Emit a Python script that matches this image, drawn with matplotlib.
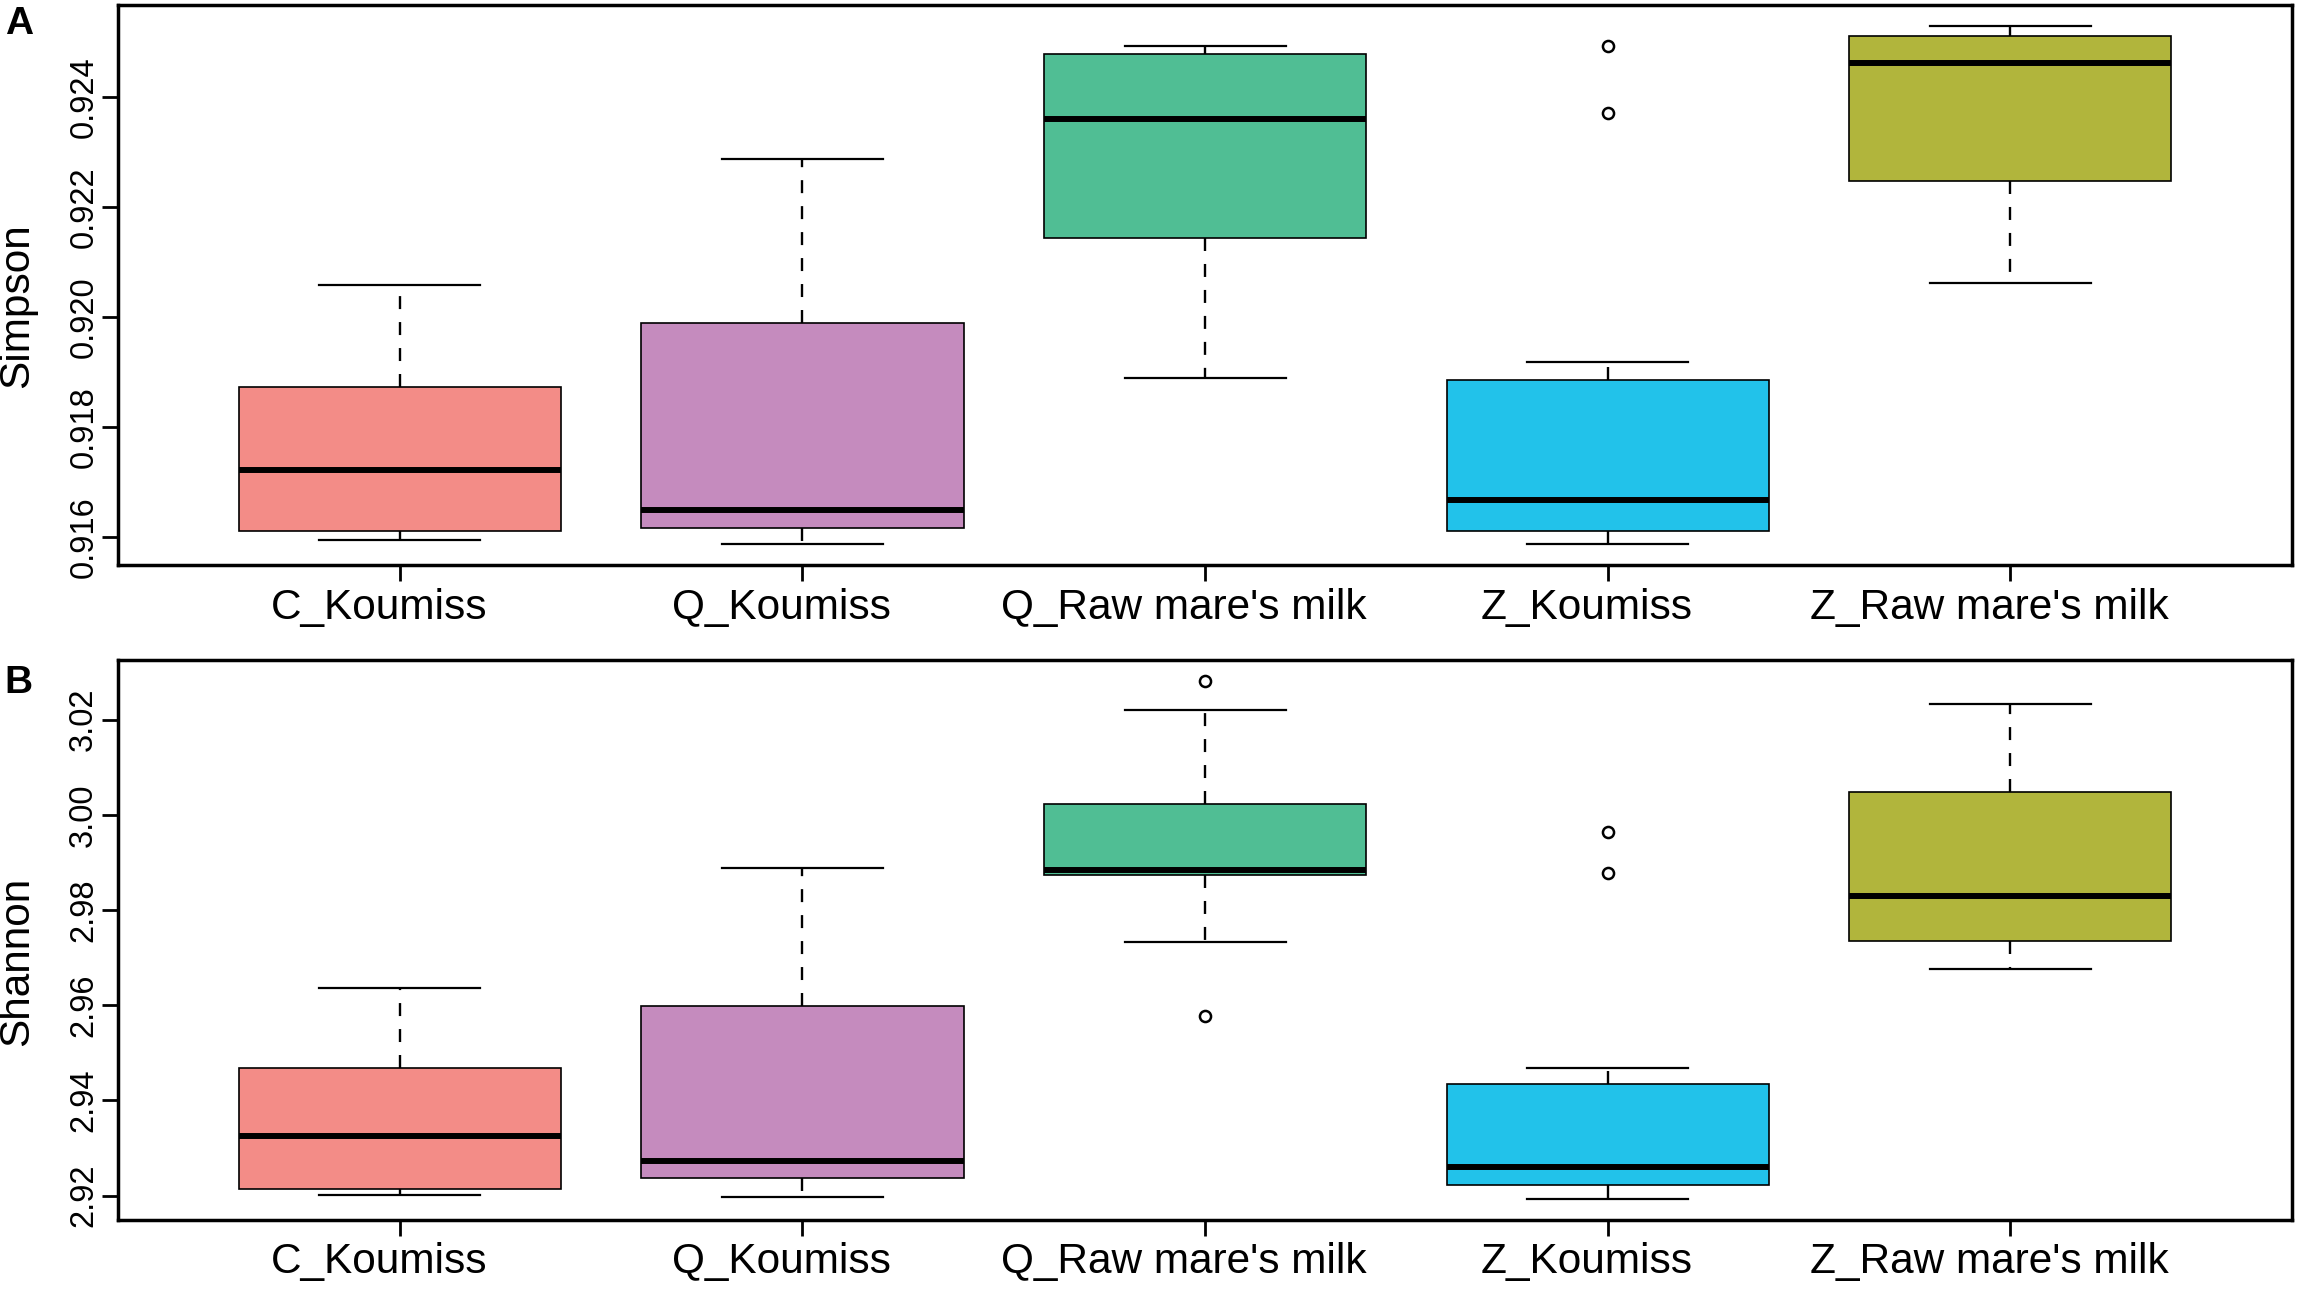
import matplotlib
matplotlib.use("Agg")
import matplotlib.pyplot as plt
import matplotlib.transforms as mtransforms
import numpy as np
from matplotlib.ticker import FormatStrFormatter

plt.rcParams['font.family'] = ['Liberation Sans', 'DejaVu Sans']

groups = ["C_Koumiss", "Q_Koumiss", "Q_Raw mare's milk", "Z_Koumiss", "Z_Raw mare's milk"]
colors = ['#F38C87', '#C58BBE', '#50BE94', '#22C2EA', '#B1B53C']

# five-number summaries: whislo, q1, median, q3, whishi
simpson_stats = [
    [0.91595, 0.91611, 0.91722, 0.91873, 0.92059],
    [0.91587, 0.91617, 0.91649, 0.91989, 0.92288],
    [0.91889, 0.92144, 0.92361, 0.92478, 0.92494],
    [0.91587, 0.91612, 0.91668, 0.91886, 0.91918],
    [0.92063, 0.92247, 0.92462, 0.92511, 0.92530],
]
simpson_out = [[], [], [], [0.92372, 0.92494], []]

shannon_stats = [
    [2.92017, 2.92149, 2.93251, 2.94686, 2.96366],
    [2.91975, 2.92361, 2.92731, 2.95987, 2.98880],
    [2.97330, 2.98735, 2.98849, 3.00231, 3.02210],
    [2.91926, 2.92231, 2.92595, 2.94347, 2.94676],
    [2.96767, 2.97345, 2.98286, 3.00481, 3.02338],
]
shannon_out = [[], [], [3.02819, 2.95777], [2.99645, 2.98784], []]

simpson_ticks = [0.916, 0.918, 0.920, 0.922, 0.924]
shannon_ticks = [2.92, 2.94, 2.96, 2.98, 3.00, 3.02]


def panel(fig, ax, stats, outs, ticks, fmt, ylabel):
    bx = []
    for s, o in zip(stats, outs):
        bx.append(dict(whislo=s[0], q1=s[1], med=s[2], q3=s[3], whishi=s[4], fliers=o))
    pos = np.arange(1, len(stats) + 1)
    res = ax.bxp(bx, positions=pos, widths=0.8, capwidths=0.4, patch_artist=True,
                 showfliers=True,
                 boxprops=dict(edgecolor='black', linewidth=1.2),
                 medianprops=dict(color='black', linewidth=4.3, solid_capstyle='butt'),
                 whiskerprops=dict(color='black', linewidth=1.7, linestyle=(0, (5.5, 5.5))),
                 capprops=dict(color='black', linewidth=1.6),
                 flierprops=dict(marker='o', markersize=8, markerfacecolor='white',
                                 markeredgecolor='black', markeredgewidth=1.8, linestyle='none'))
    for p, c in zip(res['boxes'], colors):
        p.set_facecolor(c)
    # R style axis range: 4% padding around data
    vals = [v for s in stats for v in s] + [v for o in outs for v in o]
    lo, hi = min(vals), max(vals)
    pad = 0.04 * (hi - lo)
    ax.set_ylim(lo - pad, hi + pad)
    ax.set_xlim(0.3, len(stats) + 0.7)
    ax.set_xticks(pos)
    ax.set_xticklabels([])
    # group names sit a little left of their ticks, as in the original
    shift = mtransforms.ScaledTranslation(-0.21, -0.225, fig.dpi_scale_trans)
    for x, name in zip(pos, groups):
        ax.text(x, 0, name, fontsize=30.5, ha='center', va='top',
                transform=ax.get_xaxis_transform() + shift)
    ax.set_yticks(ticks)
    ax.yaxis.set_major_formatter(FormatStrFormatter(fmt))
    for lab in ax.get_yticklabels():
        lab.set_rotation(90)
        lab.set_va('center')
    ax.tick_params(axis='y', labelsize=23.5, length=11.5, width=2.0, pad=2, direction='out')
    ax.tick_params(axis='x', length=11.5, width=2.0, direction='out')
    for sp in ax.spines.values():
        sp.set_linewidth(2.5)
    ax.set_ylabel(ylabel, fontsize=30.5)
    ax.yaxis.set_label_coords(-0.037, 0.4625)
    return ax


fig = plt.figure(figsize=(22.98, 12.93), dpi=100)
axA = fig.add_axes([0.05135, 0.5630, 0.9461, 0.4331])
axB = fig.add_axes([0.05135, 0.0565, 0.9461, 0.4331])

panel(fig, axA, simpson_stats, simpson_out, simpson_ticks, '%.3f', 'Simpson')
panel(fig, axB, shannon_stats, shannon_out, shannon_ticks, '%.2f', 'Shannon')

fig.text(0.002, 0.995, 'A', fontsize=28, fontweight='bold', va='top', ha='left')
fig.text(0.002, 0.486, 'B', fontsize=28, fontweight='bold', va='top', ha='left')

fig.savefig('out.png', dpi=100)
